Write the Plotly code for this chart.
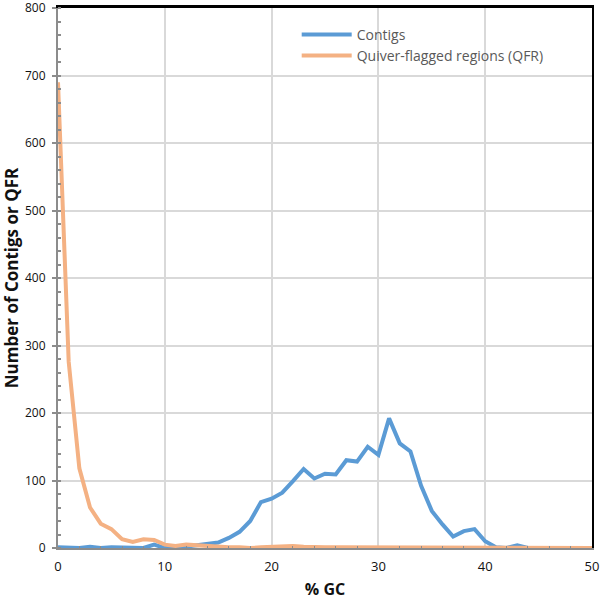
import plotly.graph_objects as go

gc = list(range(0, 51))
contigs = [1, 0, 0, 2, 0, 1, 1, 0, 0, 5, 0, 0, 2, 3, 5, 8, 15, 24, 40, 68,
           73, 82, 99, 117, 103, 110, 109, 130, 128, 150, 138, 192, 155, 143, 92, 55,
           35, 17, 25, 28, 10, 1, 0, 4, 0, 0, 0, 0, 1, 0, 0]
qfr = [690, 276, 118, 60, 36, 28, 13, 9, 13, 12, 5, 3, 5, 4, 2, 1, 1, 1, 0, 1,
       2, 3, 3, 2, 1, 1, 1, 1, 0, 0, 0, 0, 0, 0, 0, 0,
       0, 0, 0, 0, 0, 0, 0, 0, 0, 0, 0, 0, 0, 0, 0]

fig = go.Figure()
fig.add_trace(go.Scatter(x=gc, y=contigs, mode="lines", name="Contigs",
                         line=dict(color="#5B9BD5", width=4)))
fig.add_trace(go.Scatter(x=gc, y=qfr, mode="lines", name="Quiver-flagged regions (QFR)",
                         line=dict(color="#F4B183", width=4)))
# empty helper trace so the top frame axis is drawn
fig.add_trace(go.Scatter(x=[], y=[], xaxis="x2", yaxis="y2", showlegend=False,
                         hoverinfo="skip"))

font_family = "Open Sans, Liberation Sans, sans-serif"
fig.update_layout(
    width=600, height=600,
    margin=dict(l=58, r=8, t=8, b=52, autoexpand=False),
    plot_bgcolor="white", paper_bgcolor="white",
    font=dict(family=font_family, color="#222"),
    showlegend=True,
    legend=dict(x=0.447, y=0.98, xanchor="left", yanchor="top",
                bgcolor="rgba(0,0,0,0)", font=dict(size=14, color="#595959"),
                itemwidth=50, tracegroupgap=0),
    xaxis=dict(range=[0, 50], dtick=10, showgrid=True, gridcolor="#d9d9d9", gridwidth=1.5,
               showline=True, linecolor="#8c8c8c", linewidth=1.5, automargin=False,
               ticks="", tickfont=dict(size=13, color="#111"), ticklabelstandoff=6,
               ticklabeloverflow="allow",
               minor=dict(dtick=2, ticks="inside", ticklen=2, tickcolor="#8c8c8c", showgrid=False),
               title=dict(text="<b>% GC</b>", font=dict(size=16, color="#111"), standoff=10),
               zeroline=False),
    yaxis=dict(range=[0, 800], dtick=100, showgrid=True, gridcolor="#d9d9d9", gridwidth=1.5,
               showline=True, linecolor="#8c8c8c", linewidth=2, automargin=False,
               ticks="outside", ticklen=4, tickcolor="#8c8c8c", tickwidth=1.5,
               tickfont=dict(size=12, color="#111"), ticklabelstandoff=4,
               ticklabeloverflow="allow",
               minor=dict(dtick=20, ticks="inside", ticklen=3, tickcolor="#8c8c8c", showgrid=False),
               title=dict(text="<b>Number of Contigs or QFR</b>", font=dict(size=17, color="#111"), standoff=6),
               zeroline=False),
    xaxis2=dict(overlaying="x", side="top", range=[0, 50], showline=True, linecolor="black",
                linewidth=2.5, showgrid=False, showticklabels=False, ticks="", zeroline=False,
                automargin=False),
    yaxis2=dict(overlaying="y", side="right", range=[0, 800], showline=True, linecolor="black",
                linewidth=2, showgrid=False, showticklabels=False, ticks="", zeroline=False,
                automargin=False),
)

fig.write_html("out.html", config={"displayModeBar": False},
               post_script="document.body.style.margin='0px';")
